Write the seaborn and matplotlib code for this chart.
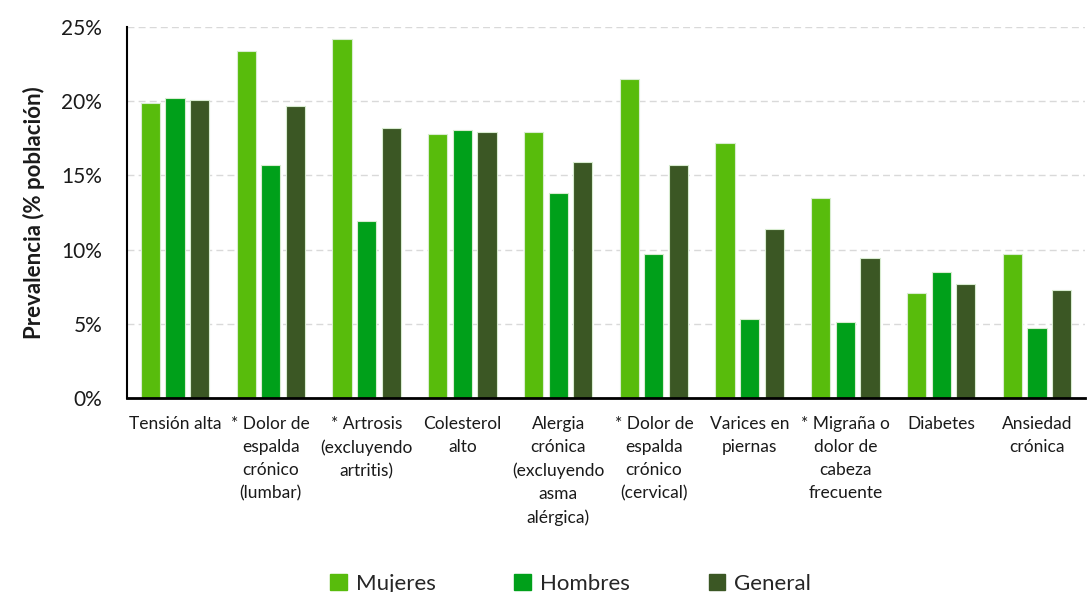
import matplotlib
matplotlib.use("Agg")
import matplotlib.pyplot as plt
import matplotlib.ticker as mticker
import seaborn as sns
import pandas as pd

categorias = [
    "Tensión alta",
    "* Dolor de\nespalda\ncrónico\n(lumbar)",
    "* Artrosis\n(excluyendo\nartritis)",
    "Colesterol\nalto",
    "Alergia\ncrónica\n(excluyendo\nasma\nalérgica)",
    "* Dolor de\nespalda\ncrónico\n(cervical)",
    "Varices en\npiernas",
    "* Migraña o\ndolor de\ncabeza\nfrecuente",
    "Diabetes",
    "Ansiedad\ncrónica",
]
mujeres = [19.9, 23.4, 24.2, 17.8, 17.9, 21.5, 17.2, 13.5, 7.1, 9.7]
hombres = [20.2, 15.7, 11.9, 18.1, 13.8, 9.7, 5.3, 5.1, 8.5, 4.7]
general = [20.1, 19.7, 18.2, 17.9, 15.9, 15.7, 11.4, 9.4, 7.7, 7.3]
series = ["Mujeres", "Hombres", "General"]
colores = ["#58BC0C", "#00A01A", "#3B5724"]

df = pd.DataFrame({
    "categoria": categorias * 3,
    "grupo": [s for s in series for _ in categorias],
    "valor": mujeres + hombres + general,
})

sns.set_theme(style="white")
plt.rcParams["font.family"] = ["Lato", "DejaVu Sans"]

fig = plt.figure(figsize=(10.87, 5.92), dpi=100)
ax = fig.add_axes([0.117, 0.328, 0.881, 0.626])

sns.barplot(
    data=df, x="categoria", y="valor", hue="grupo",
    order=categorias, hue_order=series, palette=colores,
    width=0.77, gap=0.22, edgecolor="#d8ecd0", linewidth=0.8,
    errorbar=None, ax=ax, saturation=1,
)

ax.set_ylim(0, 25)
ax.set_xlim(-0.5, len(categorias) - 0.5)
ax.yaxis.set_major_locator(mticker.MultipleLocator(5))
ax.yaxis.set_major_formatter(mticker.FuncFormatter(lambda v, p: f"{v:.0f}%"))
ax.yaxis.grid(True, color="#d9d9d9", linestyle=(0, (5, 3)), linewidth=1)
ax.set_axisbelow(True)

for s in ["top", "right"]:
    ax.spines[s].set_visible(False)
ax.spines["left"].set_color("black")
ax.spines["left"].set_linewidth(1.5)
ax.spines["bottom"].set_color("black")
ax.spines["bottom"].set_linewidth(2)

ax.tick_params(axis="y", labelsize=15, colors="#1a1a1a", length=0, pad=18)
ax.tick_params(axis="x", labelsize=12.5, colors="#1a1a1a", length=0, pad=13)
for lbl in ax.get_xticklabels():
    lbl.set_linespacing(1.55)
    lbl.set_horizontalalignment("center")

ax.set_xlabel("")
ax.set_ylabel("Prevalencia (% población)", fontsize=16, fontweight="bold",
              color="#1a1a1a", labelpad=12)

ax.legend_.remove()
handles = [plt.Rectangle((0, 0), 1, 1, color=c) for c in colores]
fig.legend(handles, series, loc="lower center", bbox_to_anchor=(0.525, -0.037),
           ncol=3, frameon=False, fontsize=16, handlelength=0.75,
           handleheight=0.75, handletextpad=0.4, columnspacing=3.55)

fig.savefig("out.png", dpi=100)
